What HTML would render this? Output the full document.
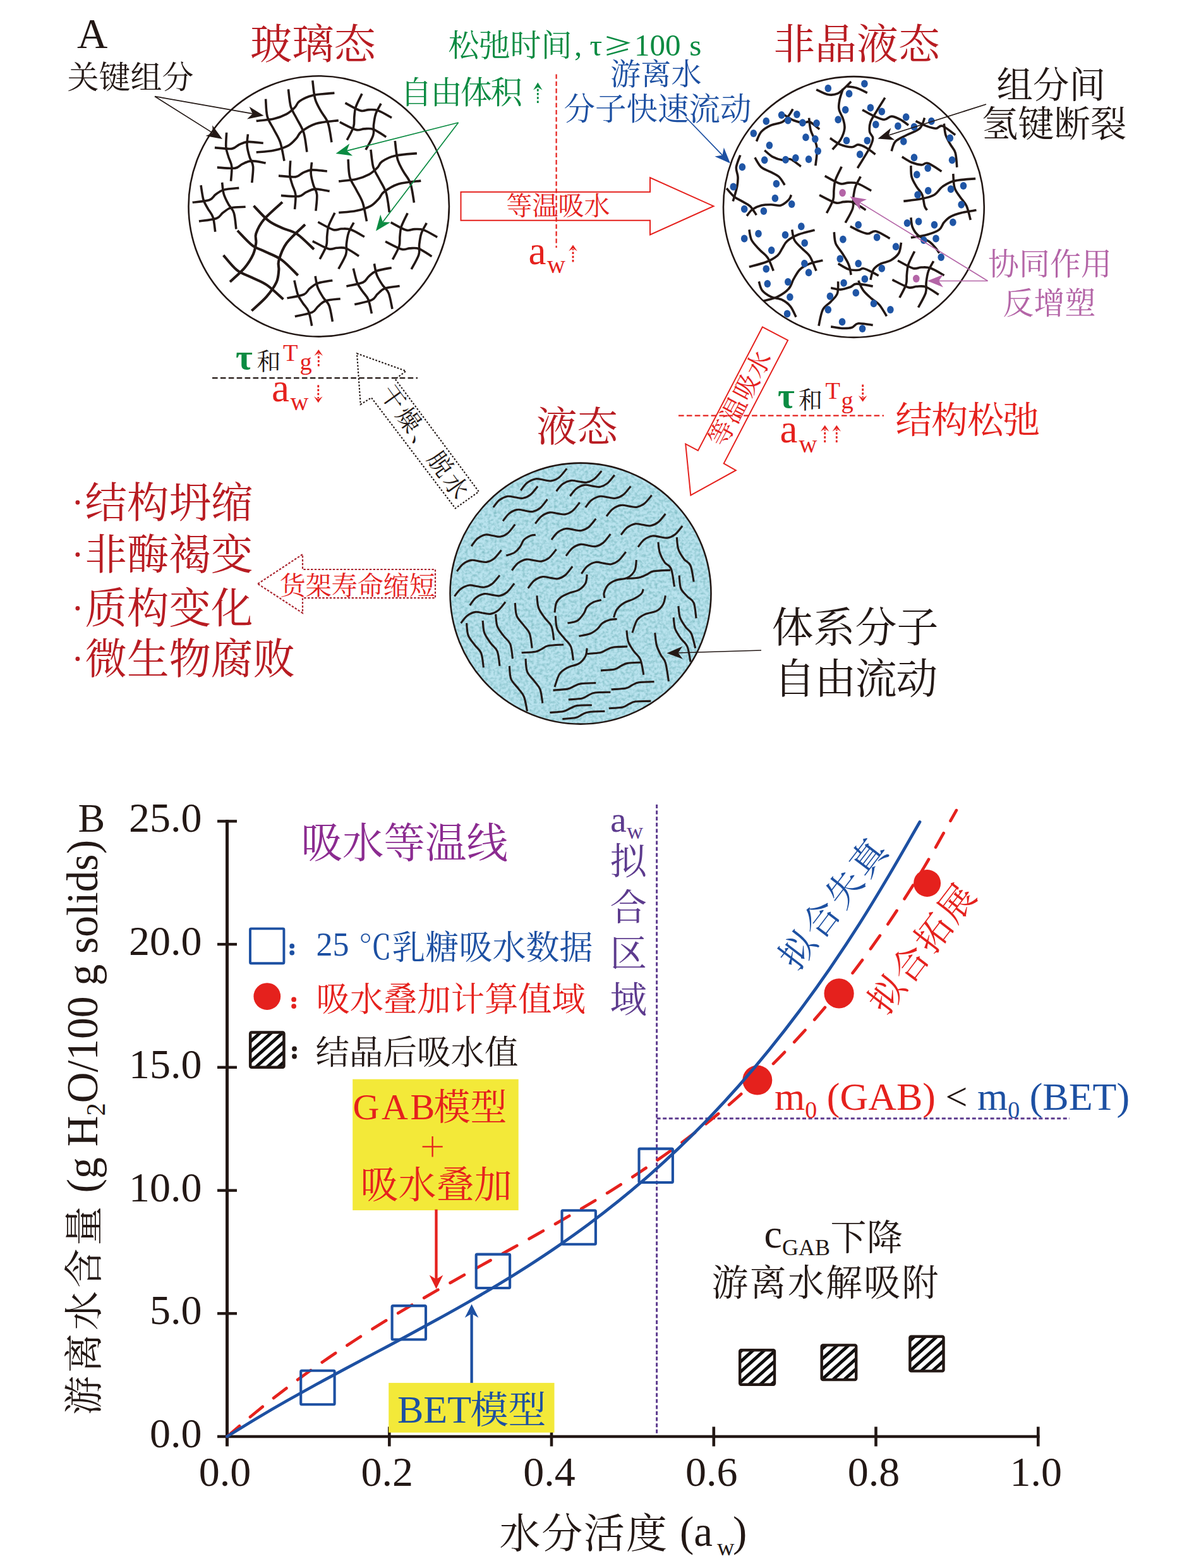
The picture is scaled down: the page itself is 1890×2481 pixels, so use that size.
<!DOCTYPE html>
<html lang="zh"><head><meta charset="utf-8"><title>Glass transition and water sorption isotherm</title>
<style>
html,body{margin:0;padding:0;background:#fff;}
body{width:1890px;height:2481px;overflow:hidden;font-family:"Liberation Serif","Noto Serif CJK SC",serif;}
svg{display:block;}
svg text{font-family:"Liberation Serif","Noto Serif CJK SC",serif;}
</style></head><body>
<svg width="1890" height="2481" viewBox="0 0 1890 2481">
<defs>
<pattern id="hatch" width="11.9" height="11.9" patternUnits="userSpaceOnUse" patternTransform="rotate(-42)"><rect width="11.9" height="11.9" fill="#fff"/><rect y="0" width="11.9" height="5" fill="#0c0c0c"/></pattern>
<pattern id="hatch2" width="11.9" height="11.9" patternUnits="userSpaceOnUse" patternTransform="rotate(-42) translate(0,3)"><rect width="11.9" height="11.9" fill="#fff"/><rect y="0" width="11.9" height="5" fill="#0c0c0c"/></pattern>
<filter id="noise" x="0" y="0" width="100%" height="100%" color-interpolation-filters="sRGB"><feTurbulence type="fractalNoise" baseFrequency="0.22" numOctaves="2" seed="11"/><feColorMatrix type="matrix" values="0 0 0 0 0.50  0 0 0 0 0.74  0 0 0 0 0.77  1.9 0 0 0 -0.73"/></filter>
<clipPath id="c3"><circle cx="919" cy="939.1" r="206.5"/></clipPath>
<g id="mS"><path d="M-39.7,-15.9C-35.2,-15.6 -19.2,-13.3 -12.8,-14.1C-6.4,-14.9 -5.6,-18.7 -1.3,-20.5C3.0,-22.3 6.4,-24.7 12.8,-25.1C19.2,-25.5 33.1,-23.4 37.1,-23.0"/><path d="M-35.8,15.4C-31.1,15.6 -14.3,17.5 -7.7,16.6C-1.1,15.7 -0.5,12.1 3.8,10.2C8.1,8.3 11.7,5.4 17.9,5.1C24.1,4.8 37.1,7.9 41.0,8.4"/><path d="M-21.0,-39.7C-21.1,-35.9 -22.3,-23.0 -21.8,-16.6C-21.3,-10.2 -19.4,-6.4 -17.9,-1.3C-16.4,3.8 -13.4,7.7 -12.8,14.1C-12.2,20.5 -13.9,33.3 -14.1,37.1"/><path d="M12.8,-37.1C12.6,-34.1 11.1,-25.2 11.5,-19.2C11.9,-13.2 13.8,-6.8 15.4,-1.3C17.0,4.2 20.4,7.3 21.0,14.1C21.6,20.9 19.5,35.4 19.2,39.7"/></g><g id="mL"><path d="M-49.9,-34.0C-49.5,-29.4 -49.5,-14.4 -47.4,-6.4C-45.3,1.6 -40.5,7.3 -37.1,14.1C-33.7,20.9 -29.7,26.3 -26.9,34.6C-24.1,42.9 -21.6,59.1 -20.5,64.0"/><path d="M-14.1,-49.4C-13.4,-44.8 -12.3,-29.4 -10.2,-21.8C-8.1,-14.2 -4.7,-10.6 -1.3,-3.8C2.1,3.0 7.4,10.2 10.2,19.2C13.0,28.1 14.5,44.8 15.4,49.9"/><path d="M24.3,-63.2C24.9,-58.4 26.1,-42.6 28.2,-34.6C30.3,-26.6 33.7,-21.8 37.1,-15.4C40.5,-9.0 45.7,-4.5 48.6,3.8C51.5,12.1 53.5,29.5 54.5,34.6"/><path d="M-64.8,0.8C-60.2,0.2 -45.1,-0.8 -37.1,-2.6C-29.1,-4.4 -22.2,-7.2 -16.6,-10.2C-11.1,-13.2 -7.2,-17.1 -3.8,-20.5C-0.4,-23.9 -0.9,-27.5 3.8,-30.7C8.5,-33.9 15.1,-37.6 24.3,-39.7C33.5,-41.8 53.1,-42.9 58.9,-43.5"/><path d="M-64.8,50.4C-60.2,49.9 -45.5,49.2 -37.1,47.4C-28.7,45.6 -20.1,42.9 -14.1,39.7C-8.1,36.5 -4.7,31.8 -1.3,28.2C2.1,24.6 1.3,21.8 6.4,17.9C11.5,14.0 19.6,8.1 29.4,5.1C39.2,2.1 59.3,0.8 65.3,0.0"/></g></defs>
<text x="122.00" y="76.00" font-size="67" fill="#231815" text-anchor="start">A</text>
<circle cx="504.7" cy="326.4" r="206.2" fill="#fff" stroke="#231815" stroke-width="2.6"/>
<circle cx="1351.4" cy="327.5" r="206.4" fill="#fff" stroke="#231815" stroke-width="2.6"/>
<circle cx="919" cy="939.1" r="206.5" fill="#b9e3ee"/><rect x="706" y="726" width="426" height="426" filter="url(#noise)" clip-path="url(#c3)"/><circle cx="919" cy="939.1" r="206.5" fill="none" stroke="#231815" stroke-width="2.6"/>
<g fill="none" stroke="#231815" stroke-width="3.6" stroke-linecap="butt">
<use href="#mS" transform="translate(379.6,249.5)"/>
<use href="#mL" transform="translate(470.5,190.6)"/>
<use href="#mS" transform="translate(576.8,193.0) rotate(23)"/>
<use href="#mS" transform="translate(480.7,294.0)"/>
<use href="#mL" transform="translate(601.0,286.1)"/>
<use href="#mS" transform="translate(346.8,327.6) rotate(-12)"/>
<use href="#mL" transform="translate(423.0,400.5) rotate(-37) scale(1.15,1.15)"/>
<use href="#mS" transform="translate(533.7,381.4) rotate(23)"/>
<use href="#mS" transform="translate(649.0,382.0) rotate(23)"/>
<use href="#mS" transform="translate(497.0,476.0) rotate(-16)"/>
<use href="#mS" transform="translate(591.0,456.5) rotate(-17)"/>
</g>
<g fill="none" stroke="#231815" stroke-width="3.6">
<path d="M1292.1,141.8C1295.1,143.1 1304.5,148.4 1310.0,149.5C1315.6,150.6 1320.7,150.2 1325.4,148.2C1330.1,146.3 1334.6,141.2 1338.2,138.0C1341.8,134.8 1345.7,130.5 1347.2,129.0"/>
<path d="M1334.4,140.6C1333.5,143.3 1330.3,151.9 1329.2,157.2C1328.2,162.5 1327.1,167.4 1328.0,172.5C1328.8,177.7 1332.9,182.8 1334.4,187.9C1335.9,193.0 1337.6,197.7 1336.9,203.3C1336.3,208.8 1333.7,215.6 1330.5,221.2C1327.3,226.7 1319.9,234.0 1317.7,236.5"/>
<path d="M1340.8,136.7C1343.3,137.1 1350.8,137.6 1356.1,139.3C1361.5,141.0 1370.0,145.7 1372.8,147.0"/>
<path d="M1365.1,173.8C1367.9,175.3 1376.0,180.2 1381.7,182.8C1387.5,185.3 1394.7,189.0 1399.6,189.2C1404.5,189.4 1406.9,184.1 1411.1,184.1C1415.4,184.1 1420.7,186.8 1425.2,189.2C1429.7,191.5 1435.9,196.6 1438.0,198.1"/>
<path d="M1400.9,154.6C1398.8,158.0 1392.0,168.7 1388.1,175.1C1384.3,181.5 1379.8,187.5 1377.9,193.0C1376.0,198.6 1376.0,204.1 1376.6,208.4C1377.2,212.6 1381.7,214.4 1381.7,218.6C1381.7,222.9 1380.6,226.1 1376.6,234.0C1372.5,241.9 1360.6,260.6 1357.4,266.0"/>
<path d="M1313.9,218.6C1316.7,220.3 1324.8,226.5 1330.5,228.9C1336.3,231.2 1343.7,232.7 1348.4,232.7C1353.1,232.7 1354.8,228.6 1358.7,228.9C1362.5,229.1 1367.0,231.4 1371.5,234.0C1376.0,236.5 1383.2,242.5 1385.6,244.2"/>
<path d="M1449.5,191.7C1452.3,193.0 1460.8,197.5 1466.2,199.4C1471.5,201.3 1477.3,203.3 1481.5,203.3C1485.8,203.3 1486.7,197.7 1491.8,199.4C1496.9,201.1 1508.8,211.2 1512.2,213.5"/>
<path d="M1463.6,186.6C1462.3,189.4 1460.6,198.8 1455.9,203.3C1451.2,207.7 1441.9,210.1 1435.5,213.5C1429.1,216.9 1421.6,219.5 1417.5,223.7C1413.5,228.0 1412.2,236.5 1411.1,239.1"/>
<path d="M1494.3,195.6C1494.8,198.6 1495.2,208.0 1496.9,213.5C1498.6,219.0 1502.0,224.2 1504.6,228.9C1507.1,233.5 1510.5,235.7 1512.2,241.7C1514.0,247.6 1514.4,260.9 1514.8,264.7"/>
<path d="M1427.8,248.1C1430.3,249.5 1438.0,254.9 1443.1,257.0C1448.3,259.1 1454.2,260.6 1458.5,260.9C1462.8,261.1 1463.4,256.6 1468.7,258.3C1474.1,260.0 1486.9,269.0 1490.5,271.1"/>
<path d="M1441.9,262.1C1442.1,265.1 1441.6,274.5 1443.1,280.0C1444.6,285.6 1448.0,290.7 1450.8,295.4C1453.6,300.1 1457.6,303.1 1459.8,308.2C1461.9,313.3 1462.3,322.1 1463.6,326.1C1464.9,330.2 1466.8,331.5 1467.5,332.5"/>
<path d="M1508.8,275.0C1509.2,278.7 1509.1,290.8 1511.0,297.0C1512.9,303.2 1516.8,307.2 1520.0,312.0C1523.2,316.8 1527.3,320.0 1530.0,326.0C1532.7,332.0 1535.2,344.3 1536.3,348.0"/>
<path d="M1430.3,318.4C1435.0,317.8 1450.4,316.3 1458.5,314.6C1466.6,312.9 1473.4,311.4 1479.0,308.2C1484.5,305.0 1486.7,299.0 1491.8,295.4C1496.9,291.8 1500.9,288.6 1509.7,286.4C1518.4,284.3 1538.5,283.2 1544.2,282.6"/>
<path d="M1197.4,223.7C1198.7,221.2 1201.3,212.6 1205.1,208.4C1208.9,204.1 1214.9,200.7 1220.5,198.1C1226.0,195.6 1233.7,195.6 1238.4,193.0C1243.1,190.5 1245.8,186.2 1248.6,182.8C1251.4,179.4 1254.0,174.3 1255.0,172.5"/>
<path d="M1240.9,181.5C1243.5,183.0 1251.2,188.3 1256.3,190.5C1261.4,192.6 1267.4,193.9 1271.7,194.3C1275.9,194.7 1277.6,191.3 1281.9,193.0C1286.2,194.7 1294.7,202.6 1297.2,204.5"/>
<path d="M1280.6,186.6C1281.0,189.8 1281.7,200.1 1283.2,205.8C1284.7,211.6 1287.9,216.1 1289.6,221.2C1291.3,226.3 1293.2,229.7 1293.4,236.5C1293.6,243.4 1291.3,257.9 1290.9,262.1"/>
<path d="M1210.2,237.8C1212.4,239.5 1218.3,245.5 1223.0,248.1C1227.7,250.6 1233.7,252.5 1238.4,253.2C1243.1,253.8 1246.3,250.2 1251.2,251.9C1256.1,253.6 1265.0,261.5 1267.8,263.4"/>
<path d="M1194.9,249.3C1196.6,251.9 1200.8,260.9 1205.1,264.7C1209.4,268.5 1215.8,269.8 1220.5,272.4C1225.2,274.9 1229.6,276.6 1233.3,280.0C1236.9,283.5 1240.7,290.7 1242.2,292.8"/>
<path d="M1171.8,245.5C1170.8,248.7 1166.1,258.9 1165.4,264.7C1164.8,270.4 1167.8,274.9 1168.0,280.0C1168.2,285.2 1168.0,289.0 1166.7,295.4C1165.4,301.8 1161.4,314.6 1160.3,318.4"/>
<path d="M1150.1,298.0C1152.0,300.1 1157.5,307.3 1161.6,310.8C1165.6,314.2 1170.1,315.9 1174.4,318.4C1178.7,321.0 1183.4,322.5 1187.2,326.1C1191.0,329.7 1195.7,337.9 1197.4,340.2"/>
<path d="M1182.1,341.6C1183.6,339.9 1187.2,334.1 1191.0,331.4C1194.9,328.6 1200.2,326.2 1205.1,325.0C1210.0,323.7 1215.3,323.7 1220.5,323.7C1225.6,323.7 1231.1,326.2 1235.8,325.0C1240.5,323.7 1245.8,318.8 1248.6,316.0C1251.4,313.2 1251.8,309.6 1252.5,308.3"/>
<path d="M1441.9,376.1C1446.3,375.3 1461.3,373.2 1468.7,371.0C1476.2,368.9 1482.4,366.6 1486.7,363.4C1490.9,360.2 1491.3,355.2 1494.3,351.8C1497.3,348.4 1499.9,345.4 1504.6,342.9C1509.3,340.3 1515.7,338.2 1522.5,336.5C1529.3,334.8 1541.7,333.3 1545.5,332.6"/>
<path d="M1441.9,344.2C1442.3,346.7 1442.5,354.8 1444.4,359.5C1446.3,364.2 1448.9,368.5 1453.4,372.3C1457.9,376.1 1466.6,379.1 1471.3,382.5C1476.0,386.0 1479.0,389.8 1481.5,392.8C1484.1,395.8 1485.8,399.2 1486.7,400.5"/>
<path d="M1185.9,363.4C1186.6,366.1 1187.0,374.7 1189.8,380.0C1192.5,385.3 1198.3,390.7 1202.5,395.3C1206.8,400.0 1211.7,402.6 1215.3,408.1C1219.0,413.7 1222.8,425.2 1224.3,428.6"/>
<path d="M1253.7,363.4C1254.4,366.1 1255.0,375.1 1257.6,380.0C1260.1,384.9 1265.0,388.5 1269.1,392.8C1273.1,397.1 1278.1,399.6 1281.9,405.6C1285.7,411.6 1290.4,424.8 1292.1,428.6"/>
<path d="M1185.9,422.2C1190.4,420.9 1205.3,417.5 1212.8,414.5C1220.3,411.6 1226.4,407.9 1230.7,404.3C1235.0,400.7 1235.8,396.6 1238.4,392.8C1240.9,388.9 1241.8,384.9 1246.1,381.3C1250.3,377.6 1256.7,373.9 1264.0,371.0C1271.2,368.2 1285.3,365.3 1289.6,364.1"/>
<path d="M1201.3,445.3C1202.1,447.6 1203.2,455.3 1206.4,459.3C1209.6,463.4 1215.1,467.0 1220.5,469.6C1225.8,472.1 1233.3,472.1 1238.4,474.7C1243.5,477.2 1247.6,480.4 1251.2,484.9C1254.8,489.4 1258.6,498.8 1260.1,501.6"/>
<path d="M1208.9,476.0C1212.6,474.9 1224.1,472.8 1230.7,469.6C1237.3,466.4 1244.4,461.5 1248.6,456.8C1252.9,452.1 1253.3,446.5 1256.3,441.4C1259.3,436.3 1262.3,430.1 1266.5,426.1C1270.8,422.0 1275.9,419.4 1281.9,417.1C1287.9,414.8 1299.0,412.8 1302.4,412.0"/>
<path d="M1320.3,367.2C1320.7,370.2 1320.7,379.6 1322.8,385.1C1325.0,390.7 1329.7,394.9 1333.1,400.5C1336.5,406.0 1341.0,412.6 1343.3,418.4C1345.7,424.1 1346.5,432.2 1347.2,435.0"/>
<path d="M1345.9,358.2C1348.4,359.5 1356.5,364.0 1361.2,365.9C1365.9,367.8 1369.8,369.8 1374.0,369.8C1378.3,369.8 1381.1,364.6 1386.8,365.9C1392.6,367.2 1405.0,375.5 1408.6,377.4"/>
<path d="M1326.7,417.1C1329.5,418.6 1338.0,424.4 1343.3,426.1C1348.7,427.8 1354.8,427.6 1358.7,427.3C1362.5,427.1 1362.9,424.4 1366.4,424.8C1369.8,425.2 1375.1,428.0 1379.2,429.9C1383.2,431.8 1388.8,435.2 1390.7,436.3"/>
<path d="M1426.5,383.8C1425.9,386.6 1425.4,395.8 1422.7,400.5C1419.9,405.2 1414.6,409.2 1409.9,412.0C1405.2,414.8 1399.0,414.8 1394.5,417.1C1390.0,419.4 1385.8,421.8 1383.0,426.1C1380.2,430.3 1378.7,439.9 1377.9,442.7"/>
<path d="M1315.2,455.5C1317.7,455.9 1325.4,458.3 1330.5,458.1C1335.6,457.8 1341.6,455.7 1345.9,454.2C1350.1,452.7 1350.1,449.3 1356.1,449.1C1362.1,448.9 1377.4,452.3 1381.7,452.9"/>
<path d="M1326.7,445.3C1326.5,448.5 1327.3,459.1 1325.4,464.5C1323.5,469.8 1319.0,473.0 1315.2,477.2C1311.3,481.5 1305.6,483.6 1302.4,490.0C1299.2,496.4 1297.0,511.4 1296.0,515.6"/>
<path d="M1358.7,444.0C1360.0,446.5 1362.9,454.6 1366.4,459.3C1369.8,464.0 1374.9,468.3 1379.2,472.1C1383.4,476.0 1387.9,477.7 1392.0,482.4C1396.0,487.1 1401.6,497.3 1403.5,500.3"/>
<path d="M1315.2,516.9C1318.2,517.3 1327.5,519.3 1333.1,519.5C1338.6,519.7 1344.2,519.5 1348.4,518.2C1352.7,516.9 1353.1,512.4 1358.7,511.8C1364.2,511.2 1377.9,513.9 1381.7,514.4"/>
<use href="#mS" transform="translate(1336.0,308.5) rotate(23)"/>
<use href="#mS" transform="translate(1451.4,442.4) rotate(23)"/>
</g>
<g fill="#1f55a5">
<ellipse cx="1310.8" cy="139.8" rx="5.3" ry="6"/>
<ellipse cx="1368.4" cy="132.4" rx="5.3" ry="6"/>
<ellipse cx="1344.1" cy="148.2" rx="5.3" ry="6"/>
<ellipse cx="1338.2" cy="173.8" rx="5.3" ry="6"/>
<ellipse cx="1326.7" cy="189.2" rx="5.3" ry="6"/>
<ellipse cx="1377.9" cy="170.5" rx="5.3" ry="6"/>
<ellipse cx="1395.8" cy="176.4" rx="5.3" ry="6"/>
<ellipse cx="1386.3" cy="196.9" rx="5.3" ry="6"/>
<ellipse cx="1434.2" cy="185.3" rx="5.3" ry="6"/>
<ellipse cx="1421.4" cy="199.4" rx="5.3" ry="6"/>
<ellipse cx="1447.0" cy="200.7" rx="5.3" ry="6"/>
<ellipse cx="1474.4" cy="191.7" rx="5.3" ry="6"/>
<ellipse cx="1430.3" cy="223.7" rx="5.3" ry="6"/>
<ellipse cx="1503.8" cy="218.6" rx="5.3" ry="6"/>
<ellipse cx="1507.1" cy="253.2" rx="5.3" ry="6"/>
<ellipse cx="1447.0" cy="249.3" rx="5.3" ry="6"/>
<ellipse cx="1468.7" cy="266.0" rx="5.3" ry="6"/>
<ellipse cx="1451.3" cy="276.2" rx="5.3" ry="6"/>
<ellipse cx="1452.6" cy="308.2" rx="5.3" ry="6"/>
<ellipse cx="1469.2" cy="301.8" rx="5.3" ry="6"/>
<ellipse cx="1505.1" cy="299.2" rx="5.3" ry="6"/>
<ellipse cx="1525.0" cy="294.1" rx="5.3" ry="6"/>
<ellipse cx="1340.0" cy="222.5" rx="5.3" ry="6"/>
<ellipse cx="1372.8" cy="222.5" rx="5.3" ry="6"/>
<ellipse cx="1361.2" cy="244.2" rx="5.3" ry="6"/>
<ellipse cx="1237.1" cy="182.0" rx="5.3" ry="6"/>
<ellipse cx="1247.3" cy="190.5" rx="5.3" ry="6"/>
<ellipse cx="1261.4" cy="181.0" rx="5.3" ry="6"/>
<ellipse cx="1270.4" cy="194.3" rx="5.3" ry="6"/>
<ellipse cx="1292.6" cy="195.1" rx="5.3" ry="6"/>
<ellipse cx="1212.8" cy="191.7" rx="5.3" ry="6"/>
<ellipse cx="1192.8" cy="210.9" rx="5.3" ry="6"/>
<ellipse cx="1275.5" cy="217.3" rx="5.3" ry="6"/>
<ellipse cx="1290.3" cy="219.9" rx="5.3" ry="6"/>
<ellipse cx="1294.7" cy="239.1" rx="5.3" ry="6"/>
<ellipse cx="1217.9" cy="230.1" rx="5.3" ry="6"/>
<ellipse cx="1210.2" cy="253.2" rx="5.3" ry="6"/>
<ellipse cx="1243.5" cy="252.7" rx="5.3" ry="6"/>
<ellipse cx="1259.4" cy="250.1" rx="5.3" ry="6"/>
<ellipse cx="1280.1" cy="251.9" rx="5.3" ry="6"/>
<ellipse cx="1174.9" cy="264.2" rx="5.3" ry="6"/>
<ellipse cx="1160.8" cy="295.4" rx="5.3" ry="6"/>
<ellipse cx="1228.9" cy="290.8" rx="5.3" ry="6"/>
<ellipse cx="1226.9" cy="313.8" rx="5.3" ry="6"/>
<ellipse cx="1178.2" cy="330.8" rx="5.3" ry="6"/>
<ellipse cx="1208.9" cy="333.9" rx="5.3" ry="6"/>
<ellipse cx="1253.2" cy="322.9" rx="5.3" ry="6"/>
<ellipse cx="1521.7" cy="323.7" rx="5.3" ry="6"/>
<ellipse cx="1436.0" cy="353.1" rx="5.3" ry="6"/>
<ellipse cx="1454.1" cy="350.6" rx="5.3" ry="6"/>
<ellipse cx="1479.0" cy="355.7" rx="5.3" ry="6"/>
<ellipse cx="1508.4" cy="351.8" rx="5.3" ry="6"/>
<ellipse cx="1462.3" cy="380.0" rx="5.3" ry="6"/>
<ellipse cx="1481.5" cy="377.4" rx="5.3" ry="6"/>
<ellipse cx="1489.7" cy="406.9" rx="5.3" ry="6"/>
<ellipse cx="1358.7" cy="355.7" rx="5.3" ry="6"/>
<ellipse cx="1388.1" cy="375.4" rx="5.3" ry="6"/>
<ellipse cx="1418.1" cy="390.2" rx="5.3" ry="6"/>
<ellipse cx="1334.4" cy="378.7" rx="5.3" ry="6"/>
<ellipse cx="1329.8" cy="409.4" rx="5.3" ry="6"/>
<ellipse cx="1358.7" cy="417.1" rx="5.3" ry="6"/>
<ellipse cx="1395.8" cy="424.8" rx="5.3" ry="6"/>
<ellipse cx="1368.9" cy="441.4" rx="5.3" ry="6"/>
<ellipse cx="1335.6" cy="447.8" rx="5.3" ry="6"/>
<ellipse cx="1354.8" cy="463.2" rx="5.3" ry="6"/>
<ellipse cx="1313.9" cy="468.8" rx="5.3" ry="6"/>
<ellipse cx="1310.8" cy="490.0" rx="5.3" ry="6"/>
<ellipse cx="1383.0" cy="480.3" rx="5.3" ry="6"/>
<ellipse cx="1409.4" cy="490.0" rx="5.3" ry="6"/>
<ellipse cx="1333.1" cy="509.2" rx="5.3" ry="6"/>
<ellipse cx="1365.1" cy="520.0" rx="5.3" ry="6"/>
<ellipse cx="1268.3" cy="358.2" rx="5.3" ry="6"/>
<ellipse cx="1200.5" cy="369.8" rx="5.3" ry="6"/>
<ellipse cx="1178.2" cy="377.4" rx="5.3" ry="6"/>
<ellipse cx="1243.0" cy="371.8" rx="5.3" ry="6"/>
<ellipse cx="1273.7" cy="384.6" rx="5.3" ry="6"/>
<ellipse cx="1221.2" cy="395.9" rx="5.3" ry="6"/>
<ellipse cx="1212.8" cy="425.5" rx="5.3" ry="6"/>
<ellipse cx="1273.4" cy="417.1" rx="5.3" ry="6"/>
<ellipse cx="1280.1" cy="431.2" rx="5.3" ry="6"/>
<ellipse cx="1214.8" cy="449.1" rx="5.3" ry="6"/>
<ellipse cx="1247.3" cy="446.0" rx="5.3" ry="6"/>
<ellipse cx="1250.4" cy="470.1" rx="5.3" ry="6"/>
<ellipse cx="1246.1" cy="496.4" rx="5.3" ry="6"/>
</g>
<ellipse cx="1333.6" cy="305.1" rx="5.3" ry="6.2" fill="#b465a7"/>
<ellipse cx="1450.3" cy="440.9" rx="5.3" ry="6.2" fill="#b465a7"/>
<g fill="none" stroke="#231815" stroke-width="3.1">
<path d="M824.3,775.9C826.0,773.9 830.4,767.0 834.3,764.0C838.3,760.9 843.5,758.5 848.0,757.7C852.5,757.0 857.0,759.0 861.2,759.5C865.3,760.1 869.0,761.6 873.0,760.8C877.1,760.1 881.4,758.4 885.4,755.1C889.4,751.9 895.3,743.7 897.2,741.4"/>
<path d="M880.6,777.2C882.2,775.3 886.6,768.9 890.4,766.1C894.3,763.3 899.5,761.0 903.9,760.4C908.3,759.7 912.7,761.6 916.8,762.0C920.9,762.5 924.5,763.9 928.5,763.2C932.4,762.6 936.7,761.0 940.6,757.9C944.6,754.9 950.3,747.3 952.3,745.2"/>
<path d="M902.4,784.9C904.0,783.0 908.2,776.3 912.0,773.4C915.8,770.4 920.9,768.1 925.2,767.4C929.6,766.6 933.9,768.6 937.9,769.1C942.0,769.6 945.5,771.1 949.4,770.4C953.3,769.6 957.4,768.0 961.3,764.9C965.2,761.7 970.8,753.8 972.8,751.6"/>
<path d="M780.8,802.8C782.4,800.9 786.6,794.2 790.4,791.3C794.3,788.4 799.3,786.0 803.7,785.3C808.0,784.6 812.3,786.5 816.4,787.0C820.4,787.5 823.9,789.0 827.8,788.3C831.7,787.6 835.8,785.9 839.7,782.8C843.6,779.6 849.3,771.7 851.2,769.5"/>
<path d="M926.7,802.8C928.3,800.9 932.6,794.2 936.5,791.3C940.4,788.4 945.6,786.0 950.0,785.3C954.4,784.6 958.8,786.5 962.9,787.0C967.0,787.5 970.6,789.0 974.5,788.3C978.5,787.6 982.7,785.9 986.7,782.8C990.7,779.6 996.4,771.7 998.3,769.5"/>
<path d="M796.1,824.5C797.8,822.5 802.0,815.6 805.8,812.6C809.6,809.6 814.7,807.1 819.0,806.4C823.3,805.6 827.7,807.7 831.7,808.2C835.7,808.7 839.3,810.2 843.2,809.5C847.0,808.7 851.2,807.0 855.1,803.8C859.0,800.5 864.6,792.3 866.5,790.0"/>
<path d="M847.3,828.4C848.9,826.5 853.2,819.8 857.0,816.9C860.8,814.0 865.9,811.6 870.2,810.9C874.5,810.2 878.9,812.1 882.9,812.6C886.9,813.1 890.4,814.6 894.3,813.9C898.2,813.2 902.4,811.5 906.3,808.4C910.2,805.2 915.8,797.3 917.7,795.1"/>
<path d="M960.0,816.9C961.6,814.9 965.9,808.3 969.8,805.4C973.7,802.4 978.8,800.1 983.2,799.4C987.6,798.6 992.1,800.6 996.2,801.1C1000.3,801.6 1003.8,803.1 1007.8,802.4C1011.8,801.6 1016.0,800.0 1020.0,796.8C1023.9,793.7 1029.7,785.8 1031.6,783.6"/>
<path d="M746.2,864.2C747.8,862.2 752.0,855.3 755.7,852.3C759.5,849.2 764.4,846.8 768.7,846.0C772.9,845.3 777.2,847.3 781.2,847.8C785.1,848.4 788.6,849.9 792.4,849.1C796.2,848.4 800.3,846.7 804.1,843.4C807.9,840.2 813.5,832.0 815.3,829.7"/>
<path d="M872.9,854.0C874.5,852.1 878.8,845.4 882.6,842.5C886.4,839.5 891.5,837.2 895.8,836.5C900.1,835.8 904.5,837.7 908.5,838.2C912.5,838.7 916.0,840.2 919.9,839.5C923.8,838.8 928.0,837.1 931.9,834.0C935.8,830.8 941.4,822.9 943.3,820.7"/>
<path d="M983.0,846.3C984.6,844.4 988.8,837.7 992.6,834.8C996.5,831.9 1001.5,829.5 1005.9,828.8C1010.2,828.1 1014.5,830.0 1018.6,830.5C1022.6,831.0 1026.1,832.5 1030.0,831.8C1033.9,831.1 1038.0,829.4 1041.9,826.3C1045.8,823.2 1051.5,815.2 1053.4,813.0"/>
<path d="M801.3,879.1C803.4,878.3 810.4,876.7 814.1,874.5C817.7,872.2 820.5,868.9 823.0,865.5C825.6,862.1 826.6,857.0 829.4,854.0C832.2,851.0 836.6,848.9 839.7,847.6C842.7,846.3 846.5,846.5 847.8,846.3"/>
<path d="M896.0,879.6C897.6,877.6 901.8,870.7 905.6,867.6C909.4,864.6 914.5,862.1 918.8,861.4C923.2,860.6 927.5,862.7 931.5,863.2C935.6,863.7 939.1,865.2 943.0,864.5C946.9,863.8 951.0,862.0 954.9,858.8C958.8,855.5 964.4,847.3 966.4,845.0"/>
<path d="M1009.9,865.5C1011.5,863.6 1015.7,856.9 1019.5,854.0C1023.3,851.1 1028.4,848.7 1032.7,848.0C1037.1,847.3 1041.4,849.2 1045.4,849.7C1049.5,850.2 1053.0,851.7 1056.9,851.0C1060.8,850.3 1064.9,848.6 1068.8,845.5C1072.7,842.4 1078.3,834.4 1080.2,832.2"/>
<path d="M723.2,903.9C724.8,902.0 729.0,895.3 732.9,892.4C736.7,889.5 741.7,887.1 746.1,886.4C750.4,885.7 754.7,887.6 758.8,888.1C762.8,888.6 766.3,890.1 770.2,889.4C774.1,888.7 778.3,887.0 782.1,883.9C786.0,880.7 791.7,872.8 793.6,870.6"/>
<path d="M810.2,902.6C811.8,900.7 816.1,894.0 819.9,891.1C823.7,888.2 828.8,885.8 833.1,885.1C837.4,884.4 841.8,886.3 845.8,886.8C849.8,887.3 853.3,888.8 857.2,888.1C861.1,887.4 865.3,885.7 869.2,882.6C873.1,879.5 878.7,871.5 880.6,869.3"/>
<path d="M920.3,907.7C921.9,905.7 926.1,898.8 929.9,895.8C933.7,892.7 938.8,890.3 943.1,889.5C947.5,888.8 951.8,890.8 955.9,891.4C959.9,891.9 963.4,893.4 967.3,892.7C971.2,891.9 975.3,890.2 979.2,886.9C983.1,883.7 988.8,875.5 990.7,873.2"/>
<path d="M719.4,943.6C721.0,941.6 725.3,935.0 729.2,932.1C733.1,929.1 738.2,926.8 742.6,926.0C747.0,925.3 751.5,927.3 755.6,927.8C759.7,928.3 763.3,929.8 767.2,929.0C771.2,928.3 775.4,926.7 779.4,923.5C783.3,920.4 789.1,912.5 791.0,910.3"/>
<path d="M835.8,930.8C837.4,928.8 841.7,921.8 845.5,918.8C849.3,915.8 854.4,913.3 858.7,912.6C863.0,911.8 867.4,913.9 871.4,914.4C875.4,914.9 878.9,916.4 882.8,915.7C886.7,915.0 890.9,913.2 894.8,910.0C898.7,906.7 904.3,898.5 906.2,896.2"/>
<path d="M929.2,909.0C928.8,911.4 928.8,919.0 926.7,923.1C924.5,927.1 920.7,930.8 916.4,933.3C912.2,935.9 905.8,936.5 901.1,938.4C896.4,940.4 891.7,942.3 888.3,944.8C884.9,947.4 882.3,949.7 880.6,953.8C878.9,957.9 878.5,966.6 878.0,969.2"/>
<path d="M1007.3,886.0C1006.9,888.7 1007.1,897.9 1004.7,902.6C1002.4,907.3 998.1,911.6 993.2,914.1C988.3,916.7 980.4,916.0 975.3,918.0C970.2,919.9 965.7,922.2 962.5,925.6C959.3,929.1 957.1,935.0 956.1,938.4C955.2,941.9 956.8,944.8 956.9,946.1"/>
<path d="M991.9,915.4C995.1,915.2 1005.8,915.2 1011.1,914.1C1016.5,913.1 1020.1,910.7 1023.9,909.0C1027.8,907.3 1028.0,905.0 1034.2,903.9C1040.4,902.7 1056.6,902.4 1061.1,902.1"/>
<path d="M1041.9,857.8C1042.3,860.6 1042.7,869.1 1044.4,874.5C1046.1,879.8 1049.1,885.5 1052.1,889.8C1055.1,894.1 1059.8,893.6 1062.3,900.0C1064.9,906.4 1066.6,923.5 1067.5,928.2"/>
<path d="M1071.3,850.1C1071.7,853.3 1071.9,863.6 1073.9,869.3C1075.8,875.1 1079.6,880.4 1082.8,884.7C1086.0,889.0 1090.5,889.0 1093.0,894.9C1095.6,900.9 1097.3,916.3 1098.2,920.5"/>
<path d="M743.7,957.8C745.3,955.8 749.5,948.8 753.3,945.8C757.1,942.8 762.2,940.3 766.5,939.6C770.9,938.8 775.2,940.9 779.2,941.4C783.3,941.9 786.8,943.4 790.7,942.7C794.6,942.0 798.7,940.2 802.6,937.0C806.5,933.7 812.2,925.5 814.1,923.2"/>
<path d="M729.6,985.9C731.2,984.0 735.4,977.3 739.3,974.4C743.1,971.5 748.1,969.1 752.5,968.4C756.8,967.7 761.1,969.6 765.2,970.1C769.2,970.6 772.7,972.1 776.6,971.4C780.5,970.7 784.7,969.0 788.5,965.9C792.4,962.8 798.1,954.8 800.0,952.6"/>
<path d="M738.6,985.9C739.0,989.1 739.0,999.3 741.1,1005.1C743.2,1010.9 747.9,1015.8 751.4,1020.5C754.8,1025.2 759.2,1027.3 761.6,1033.3C763.9,1039.2 764.8,1052.5 765.4,1056.3"/>
<path d="M764.1,982.1C764.6,985.3 764.6,995.3 766.7,1001.3C768.8,1007.2 773.5,1013.0 776.9,1017.9C780.4,1022.8 784.8,1024.7 787.2,1030.7C789.5,1036.7 790.4,1049.9 791.0,1053.7"/>
<path d="M784.6,971.8C785.1,975.0 785.1,985.3 787.2,991.0C789.3,996.8 794.0,1001.7 797.4,1006.4C800.8,1011.1 805.3,1013.2 807.7,1019.2C810.0,1025.2 810.9,1038.4 811.5,1042.2"/>
<path d="M815.3,953.9C815.8,957.3 815.6,968.4 817.9,974.4C820.2,980.4 826.0,985.1 829.4,989.8C832.8,994.4 836.2,996.6 838.4,1002.5C840.5,1008.5 841.6,1021.7 842.2,1025.6"/>
<path d="M849.9,942.4C850.3,945.6 850.3,955.6 852.5,961.6C854.6,967.6 859.3,973.3 862.7,978.2C866.1,983.1 870.6,985.3 872.9,991.0C875.3,996.8 876.1,1009.2 876.8,1012.8"/>
<path d="M879.3,974.4C879.8,977.8 879.5,988.9 881.9,994.9C884.2,1000.8 889.8,1005.5 893.4,1010.2C897.0,1014.9 901.3,1017.3 903.6,1023.0C906.0,1028.8 906.8,1041.2 907.5,1044.8"/>
<path d="M806.4,1053.7C806.8,1057.2 806.6,1068.2 808.9,1074.2C811.3,1080.2 817.0,1084.9 820.5,1089.6C823.9,1094.3 827.1,1096.4 829.4,1102.4C831.8,1108.3 833.7,1121.6 834.5,1125.4"/>
<path d="M832.0,1042.2C832.4,1045.6 832.2,1056.7 834.5,1062.7C836.9,1068.7 842.6,1073.4 846.1,1078.1C849.5,1082.7 852.9,1085.1 855.0,1090.9C857.1,1096.6 858.2,1109.0 858.9,1112.6"/>
<path d="M898.5,985.9C901.1,985.3 909.6,984.6 913.9,982.1C918.1,979.5 921.6,974.2 924.1,970.6C926.7,966.9 926.7,963.3 929.2,960.3C931.8,957.3 935.7,954.5 939.5,952.6C943.2,950.8 949.7,949.9 951.8,949.3"/>
<path d="M916.4,1006.4C919.4,1005.7 929.5,1004.5 934.4,1002.5C939.3,1000.6 942.7,997.6 945.9,994.9C949.1,992.1 950.4,988.3 953.6,985.9C956.8,983.6 961.2,981.9 965.1,980.8C968.9,979.7 974.7,979.7 976.6,979.5"/>
<path d="M971.5,977.0C972.3,974.8 973.8,968.0 976.6,964.2C979.4,960.3 983.6,956.7 988.1,953.9C992.6,951.1 999.0,949.9 1003.5,947.5C1007.9,945.2 1012.5,942.4 1015.0,939.8C1017.5,937.3 1017.8,933.4 1018.3,932.2"/>
<path d="M1053.4,942.4C1052.7,944.7 1051.9,952.4 1049.5,956.5C1047.2,960.5 1044.0,964.2 1039.3,966.7C1034.6,969.3 1026.5,969.5 1021.4,971.8C1016.3,974.2 1012.0,975.9 1008.6,980.8C1005.2,985.7 1002.2,997.9 1000.9,1001.3"/>
<path d="M825.6,1032.8C829.2,1032.5 842.0,1032.2 847.3,1031.2C852.7,1030.2 854.2,1028.4 857.6,1026.9C861.0,1025.3 862.1,1022.9 867.8,1021.7C873.6,1020.6 888.1,1020.3 892.1,1020.0"/>
<path d="M929.2,1034.5C932.7,1034.2 944.6,1033.8 949.7,1032.8C954.8,1031.7 956.5,1029.6 960.0,1028.1C963.4,1026.7 964.6,1025.2 970.2,1024.3C975.7,1023.5 989.4,1023.2 993.2,1023.0"/>
<path d="M929.2,1025.6C928.8,1027.7 928.8,1034.3 926.7,1038.4C924.5,1042.4 921.1,1046.9 916.4,1049.9C911.7,1052.9 903.6,1053.5 898.5,1056.3C893.4,1059.1 889.1,1061.4 885.7,1066.5C882.3,1071.7 879.3,1083.6 878.0,1087.0"/>
<path d="M991.9,997.4C992.4,1000.4 992.6,1009.8 994.5,1015.3C996.4,1020.9 1000.3,1026.0 1003.5,1030.7C1006.7,1035.4 1011.1,1037.3 1013.7,1043.5C1016.3,1049.7 1018.0,1063.8 1018.8,1067.8"/>
<path d="M951.0,1060.9C954.6,1060.6 967.4,1060.1 972.8,1058.9C978.1,1057.7 979.6,1055.3 983.0,1053.7C986.4,1052.2 987.9,1050.3 993.2,1049.4C998.6,1048.4 1011.4,1048.3 1015.0,1048.1"/>
<path d="M1036.7,1001.3C1037.2,1004.5 1037.8,1014.7 1039.3,1020.5C1040.8,1026.2 1043.4,1031.1 1045.7,1035.8C1048.0,1040.5 1051.2,1041.6 1053.4,1048.6C1055.5,1055.7 1057.6,1073.1 1058.5,1078.1"/>
<path d="M1066.2,977.0C1066.6,979.9 1066.8,989.3 1068.7,994.9C1070.7,1000.4 1074.5,1005.5 1077.7,1010.2C1080.9,1014.9 1085.4,1016.8 1087.9,1023.0C1090.5,1029.2 1092.2,1043.3 1093.0,1047.3"/>
<path d="M1073.9,959.0C1074.3,962.0 1074.5,971.4 1076.4,977.0C1078.3,982.5 1082.4,988.0 1085.4,992.3C1088.4,996.6 1091.8,997.0 1094.3,1002.5C1096.9,1008.1 1099.7,1021.7 1100.7,1025.6"/>
<path d="M1075.1,910.4C1075.6,913.8 1075.6,925.3 1077.7,930.9C1079.8,936.4 1084.5,939.8 1087.9,943.7C1091.3,947.5 1095.8,948.2 1098.2,953.9C1100.5,959.7 1101.4,974.2 1102.0,978.2"/>
<path d="M875.5,1092.1C879.3,1091.8 893.0,1091.1 898.5,1090.1C904.1,1089.0 905.3,1087.1 908.8,1085.7C912.2,1084.4 913.2,1082.7 919.0,1081.9C924.8,1081.0 939.3,1080.8 943.3,1080.6"/>
<path d="M967.6,1090.9C971.5,1090.6 985.1,1090.2 990.7,1089.1C996.2,1087.9 997.5,1085.5 1000.9,1083.9C1004.3,1082.4 1005.4,1080.7 1011.1,1079.8C1016.9,1078.9 1031.4,1078.8 1035.5,1078.6"/>
<path d="M899.8,1107.0C903.4,1106.6 916.2,1106.1 921.6,1104.9C926.9,1103.7 928.4,1101.3 931.8,1099.8C935.2,1098.3 936.3,1096.7 942.0,1096.0C947.8,1095.2 962.3,1095.3 966.4,1095.2"/>
<path d="M870.4,1127.5C874.0,1127.1 886.6,1126.6 892.1,1125.4C897.7,1124.2 900.0,1121.8 903.6,1120.3C907.3,1118.8 908.3,1117.2 913.9,1116.4C919.4,1115.7 933.1,1115.8 936.9,1115.7"/>
<path d="M963.8,1120.8C967.4,1120.5 980.2,1120.2 985.5,1119.0C990.9,1117.9 992.4,1115.4 995.8,1113.9C999.2,1112.4 1000.3,1110.8 1006.0,1110.0C1011.8,1109.3 1026.3,1109.4 1030.3,1109.3"/>
<path d="M890.3,1137.7C893.8,1137.3 906.1,1136.8 911.3,1135.6C916.5,1134.4 918.1,1132.0 921.6,1130.5C925.0,1129.0 925.8,1127.5 931.8,1126.7C937.8,1125.8 953.1,1125.6 957.4,1125.4"/>
</g>
<text transform="translate(396.00,93.00)" font-size="66.3" fill="#b81c22" textLength="198.9">玻璃态</text>
<text transform="translate(1224.50,93.30)" font-size="65.8" fill="#b81c22" textLength="263.2">非晶液态</text>
<text transform="translate(849.00,697.50)" font-size="64.5" fill="#b81c22" textLength="129.0">液态</text>
<text transform="translate(106.50,139.50)" font-size="50" fill="#231815" textLength="200.0">关键组分</text>
<line x1="245.0" y1="152.5" x2="399.8" y2="179.9" stroke="#231815" stroke-width="1.7" />
<path d="M417.5,183.0 L391.1,188.5 L399.8,179.9 L394.6,168.8 Z" fill="#231815"/>
<line x1="245.0" y1="152.5" x2="336.8" y2="210.4" stroke="#231815" stroke-width="1.7" />
<path d="M352.0,220.0 L325.5,215.1 L336.8,210.4 L336.2,198.2 Z" fill="#231815"/>
<text transform="translate(709.50,89.00)" font-size="49" fill="#0b8b42" textLength="196.0">松弛时间</text>
<text x="909.00" y="88.00" font-size="49" fill="#0b8b42" text-anchor="start">, τ</text>
<path d="M960.5,58.3 L994,67.9 L960.5,79.3 M994,77.7 L960.5,86.9" fill="none" stroke="#0b8b42" stroke-width="2.5" stroke-linejoin="miter"/>
<text x="1004.00" y="88.00" font-size="49" fill="#0b8b42" text-anchor="start">100</text>
<text x="1091.30" y="88.00" font-size="49" fill="#0b8b42" text-anchor="start">s</text>
<text transform="translate(633.60,164.00)" font-size="50.5" fill="#0b8b42" textLength="193.3">自由体积</text>
<line x1="851.3" y1="163" x2="851.3" y2="138.9" stroke="#0b8b42" stroke-width="2.8" stroke-dasharray="3.6 2.6"/>
<path d="M851.3,130.5 L844.0999999999999,142.5 L851.3,138.0 L858.5,142.5 Z" fill="#0b8b42"/>
<line x1="725.5" y1="194.0" x2="549.0" y2="238.6" stroke="#0b8b42" stroke-width="1.7" />
<path d="M531.5,243.0 L553.3,227.2 L549.0,238.6 L558.2,246.6 Z" fill="#0b8b42"/>
<line x1="725.5" y1="194.0" x2="605.9" y2="351.2" stroke="#0b8b42" stroke-width="1.7" />
<path d="M595.0,365.5 L602.2,339.5 L605.9,351.2 L618.1,351.7 Z" fill="#0b8b42"/>
<text transform="translate(966.00,134.00)" font-size="48.2" fill="#1d50a2" textLength="144.6">游离水</text>
<text transform="translate(892.50,190.00)" font-size="49.5" fill="#1d50a2" textLength="297.0">分子快速流动</text>
<line x1="1085.5" y1="185.5" x2="1143.5" y2="245.6" stroke="#1d50a2" stroke-width="1.7" />
<path d="M1156.0,258.5 L1131.4,247.5 L1143.5,245.6 L1145.8,233.6 Z" fill="#1d50a2"/>
<text transform="translate(1577.50,154.50)" font-size="57.5" fill="#231815" textLength="172.5">组分间</text>
<text transform="translate(1554.00,216.00)" font-size="57.3" fill="#231815" textLength="229.2">氢键断裂</text>
<line x1="1561.0" y1="165.0" x2="1406.7" y2="214.0" stroke="#231815" stroke-width="1.7" />
<path d="M1389.5,219.5 L1410.3,202.4 L1406.7,214.0 L1416.4,221.5 Z" fill="#231815"/>
<text transform="translate(1564.00,435.00)" font-size="49" fill="#b465a7" textLength="196.0">协同作用</text>
<text transform="translate(1587.50,496.50)" font-size="49" fill="#b465a7" textLength="147.0">反增塑</text>
<line x1="1563.5" y1="444.5" x2="1360.9" y2="320.4" stroke="#b465a7" stroke-width="1.7" />
<path d="M1345.5,311.0 L1372.0,315.5 L1360.9,320.4 L1361.6,332.6 Z" fill="#b465a7"/>
<line x1="1563.5" y1="444.5" x2="1486.0" y2="444.5" stroke="#b465a7" stroke-width="1.7" />
<path d="M1468.0,444.5 L1493.0,434.5 L1486.0,444.5 L1493.0,454.5 Z" fill="#b465a7"/>
<line x1="880.6" y1="117.5" x2="880.6" y2="392.0" stroke="#e5211d" stroke-width="2.2" stroke-dasharray="7.3 4"/>
<path d="M729.5,303.7 H1029 V281 L1129.5,326.2 L1029,371.5 V348.7 H729.5 Z" fill="none" stroke="#e5211d" stroke-width="2" stroke-linejoin="miter"/>
<line x1="880.0" y1="300.0" x2="880.0" y2="352.0" stroke="#e5211d" stroke-width="1.8" stroke-dasharray="9 5" opacity="0.0"/>
<text transform="translate(801.50,340.00)" font-size="41" fill="#e5211d" textLength="164.0">等温吸水</text>
<text x="836.50" y="417.50" font-size="63" fill="#e5211d" text-anchor="start">a</text>
<text x="866.00" y="431.50" font-size="40" fill="#e5211d" text-anchor="start">w</text>
<line x1="907" y1="414.5" x2="907" y2="394.3" stroke="#e5211d" stroke-width="2.8" stroke-dasharray="3.6 2.6"/>
<path d="M907,387.5 L900.2,397.5 L907,393.0 L913.8,397.5 Z" fill="#e5211d"/>
<text x="373.00" y="583.50" font-size="58" fill="#0b8b42" text-anchor="start" font-weight="bold">τ</text>
<text transform="translate(406.50,585.20)" font-size="38" fill="#231815" textLength="38.0">和</text>
<text x="448.00" y="570.70" font-size="38.5" fill="#e5211d" text-anchor="start">T</text>
<text x="474.50" y="585.00" font-size="38.5" fill="#e5211d" text-anchor="start">g</text>
<line x1="504.3" y1="579.5" x2="504.3" y2="559.8" stroke="#e5211d" stroke-width="2.8" stroke-dasharray="3.6 2.6"/>
<path d="M504.3,553 L497.5,563.0 L504.3,558.5 L511.1,563.0 Z" fill="#e5211d"/>
<line x1="336.0" y1="598.1" x2="661.0" y2="598.1" stroke="#231815" stroke-width="2.2" stroke-dasharray="8.6 4.3"/>
<text x="430.00" y="635.00" font-size="63" fill="#e5211d" text-anchor="start">a</text>
<text x="459.50" y="649.00" font-size="40" fill="#e5211d" text-anchor="start">w</text>
<line x1="503.8" y1="609.3" x2="503.8" y2="630.4000000000001" stroke="#e5211d" stroke-width="2.8" stroke-dasharray="3.6 2.6"/>
<path d="M503.8,637.2 L497.0,627.2 L503.8,631.7 L510.6,627.2 Z" fill="#e5211d"/>
<path d="M565,559.3 L642.6,587.1 L625.7,600 L757.9,777.9 L720.7,804.3 L587.9,629.3 L570.7,640 Z" fill="none" stroke="#231815" stroke-width="2.1" stroke-dasharray="2.7 2.5" stroke-linejoin="miter"/>
<text transform="translate(600.00,621.50) rotate(54.5)" font-size="38" fill="#231815" textLength="210.0">干燥、脱水</text>
<path d="M1206.9,517.4 L1247.1,538.4 L1145.7,733.3 L1164.8,744.2 L1093.3,783.7 L1085.2,702.4 L1104.9,712.9 Z" fill="none" stroke="#e5211d" stroke-width="2" stroke-linejoin="miter"/>
<text transform="translate(1145.60,709.80) rotate(-62)" font-size="40" fill="#e5211d" textLength="163.9">等温吸水</text>
<text x="1231.00" y="644.70" font-size="58" fill="#0b8b42" text-anchor="start" font-weight="bold">τ</text>
<text transform="translate(1264.00,646.00)" font-size="38" fill="#231815" textLength="38.0">和</text>
<text x="1306.50" y="631.40" font-size="38.5" fill="#e5211d" text-anchor="start">T</text>
<text x="1331.50" y="646.00" font-size="38.5" fill="#e5211d" text-anchor="start">g</text>
<line x1="1365.7" y1="608.6" x2="1365.7" y2="629.0" stroke="#e5211d" stroke-width="2.8" stroke-dasharray="3.6 2.6"/>
<path d="M1365.7,635.8 L1358.9,625.8 L1365.7,630.3 L1372.5,625.8 Z" fill="#e5211d"/>
<line x1="1074.0" y1="657.7" x2="1399.0" y2="657.7" stroke="#e5211d" stroke-width="2.2" stroke-dasharray="8.6 4.3"/>
<text x="1234.50" y="700.00" font-size="63" fill="#e5211d" text-anchor="start">a</text>
<text x="1264.50" y="715.50" font-size="40" fill="#e5211d" text-anchor="start">w</text>
<line x1="1305.7" y1="700" x2="1305.7" y2="679.5999999999999" stroke="#e5211d" stroke-width="2.8" stroke-dasharray="3.6 2.6"/>
<path d="M1305.7,672.8 L1298.9,682.8 L1305.7,678.3 L1312.5,682.8 Z" fill="#e5211d"/>
<line x1="1324.3" y1="700" x2="1324.3" y2="679.5999999999999" stroke="#e5211d" stroke-width="2.8" stroke-dasharray="3.6 2.6"/>
<path d="M1324.3,672.8 L1317.5,682.8 L1324.3,678.3 L1331.1,682.8 Z" fill="#e5211d"/>
<text transform="translate(1417.50,684.50)" font-size="58" fill="#e5211d" textLength="228.4">结构松弛</text>
<circle cx="122.9" cy="795.0" r="3.4" fill="#b81c22"/>
<text transform="translate(134.50,818.50)" font-size="66.5" fill="#b81c22" textLength="266.0">结构坍缩</text>
<circle cx="122.9" cy="877.5" r="3.4" fill="#b81c22"/>
<text transform="translate(134.50,901.00)" font-size="66.5" fill="#b81c22" textLength="266.0">非酶褐变</text>
<circle cx="122.9" cy="962.5" r="3.4" fill="#b81c22"/>
<text transform="translate(134.50,986.00)" font-size="66.5" fill="#b81c22" textLength="266.0">质构变化</text>
<circle cx="122.9" cy="1042.5" r="3.4" fill="#b81c22"/>
<text transform="translate(134.50,1066.00)" font-size="66.5" fill="#b81c22" textLength="332.5">微生物腐败</text>
<path d="M408.1,923.8 L479,877.1 V901 H689 V946.2 H479 V970 Z" fill="none" stroke="#a9242e" stroke-width="2.2" stroke-dasharray="3.4 2.4" stroke-linejoin="miter"/>
<text transform="translate(442.70,940.60)" font-size="41" fill="#e5211d" textLength="246.0">货架寿命缩短</text>
<text transform="translate(1221.50,1015.50)" font-size="66" fill="#231815" textLength="264.0">体系分子</text>
<text transform="translate(1224.70,1096.50)" font-size="66" fill="#231815" textLength="259.5">自由流动</text>
<line x1="1205.0" y1="1029.0" x2="1073.5" y2="1033.0" stroke="#231815" stroke-width="1.7" />
<path d="M1055.5,1033.5 L1080.2,1022.8 L1073.5,1033.0 L1080.8,1042.7 Z" fill="#231815"/>
<text x="123.50" y="1316.30" font-size="64" fill="#231815" text-anchor="start">B</text>
<line x1="1039.6" y1="1273.0" x2="1039.6" y2="2273.0" stroke="#5d3b8e" stroke-width="3" stroke-dasharray="6 3.6"/>
<line x1="1039.6" y1="1769.8" x2="1693.0" y2="1769.8" stroke="#5d3b8e" stroke-width="3" stroke-dasharray="6 3.6"/>
<line x1="359.5" y1="1297.2" x2="359.5" y2="2288.5" stroke="#231815" stroke-width="5" />
<line x1="344.0" y1="2273.0" x2="1645.6" y2="2273.0" stroke="#231815" stroke-width="4.4" />
<text x="319.50" y="2290.00" font-size="66" fill="#231815" text-anchor="end">0.0</text>
<line x1="344.0" y1="2078.3" x2="375.0" y2="2078.3" stroke="#231815" stroke-width="4.4" />
<text x="319.50" y="2095.28" font-size="66" fill="#231815" text-anchor="end">5.0</text>
<line x1="344.0" y1="1883.6" x2="375.0" y2="1883.6" stroke="#231815" stroke-width="4.4" />
<text x="319.50" y="1900.56" font-size="66" fill="#231815" text-anchor="end">10.0</text>
<line x1="344.0" y1="1688.8" x2="375.0" y2="1688.8" stroke="#231815" stroke-width="4.4" />
<text x="319.50" y="1705.84" font-size="66" fill="#231815" text-anchor="end">15.0</text>
<line x1="344.0" y1="1494.1" x2="375.0" y2="1494.1" stroke="#231815" stroke-width="4.4" />
<text x="319.50" y="1511.12" font-size="66" fill="#231815" text-anchor="end">20.0</text>
<line x1="344.0" y1="1299.4" x2="375.0" y2="1299.4" stroke="#231815" stroke-width="4.4" />
<text x="319.50" y="1316.40" font-size="66" fill="#231815" text-anchor="end">25.0</text>
<text x="356.00" y="2350.50" font-size="66" fill="#231815" text-anchor="middle">0.0</text>
<line x1="616.3" y1="2257.5" x2="616.3" y2="2288.5" stroke="#231815" stroke-width="4.6" />
<text x="612.76" y="2350.50" font-size="66" fill="#231815" text-anchor="middle">0.2</text>
<line x1="873.0" y1="2257.5" x2="873.0" y2="2288.5" stroke="#231815" stroke-width="4.6" />
<text x="869.52" y="2350.50" font-size="66" fill="#231815" text-anchor="middle">0.4</text>
<line x1="1129.8" y1="2257.5" x2="1129.8" y2="2288.5" stroke="#231815" stroke-width="4.6" />
<text x="1126.28" y="2350.50" font-size="66" fill="#231815" text-anchor="middle">0.6</text>
<line x1="1386.5" y1="2257.5" x2="1386.5" y2="2288.5" stroke="#231815" stroke-width="4.6" />
<text x="1383.04" y="2350.50" font-size="66" fill="#231815" text-anchor="middle">0.8</text>
<line x1="1643.3" y1="2257.5" x2="1643.3" y2="2288.5" stroke="#231815" stroke-width="4.6" />
<text x="1639.80" y="2350.50" font-size="66" fill="#231815" text-anchor="middle">1.0</text>
<text transform="translate(154.50,2239.00) rotate(-90)" font-size="62" fill="#231815" textLength="330.4">游离水含量</text>
<text transform="translate(153.5,1887.5) rotate(-90) scale(0.965,1)" font-size="70" fill="#231815">(g H<tspan font-size="42" dy="12">2</tspan><tspan dy="-12">O/100 g solids)</tspan></text>
<text transform="translate(790.50,2449.00)" font-size="65" fill="#231815" textLength="265.4">水分活度</text>
<text x="1076.00" y="2446.00" font-size="67" fill="#231815" text-anchor="start">(a</text>
<text x="1135.00" y="2461.00" font-size="38" fill="#231815" text-anchor="start">w</text>
<text x="1160.00" y="2446.00" font-size="67" fill="#231815" text-anchor="start">)</text>
<text transform="translate(476.50,1357.00)" font-size="65.5" fill="#8b2b90" textLength="327.5">吸水等温线</text>
<rect x="396" y="1469.4" width="53.4" height="54.9" rx="1.5" fill="#fff" stroke="#1d50a2" stroke-width="3.9"/>
<circle cx="462.2" cy="1496.9" r="3.9" fill="#1d50a2"/><circle cx="462.2" cy="1507.6" r="3.9" fill="#1d50a2"/>
<text x="500.50" y="1511.50" font-size="52" fill="#1d50a2" text-anchor="start">25</text>
<text transform="translate(567.50,1518.00)" font-size="53" fill="#1d50a2" textLength="371.0">℃乳糖吸水数据</text>
<circle cx="422.8" cy="1576.6" r="21.4" fill="#e5211d"/>
<circle cx="465.1" cy="1581.4" r="3.9" fill="#e5211d"/><circle cx="465.1" cy="1592.1" r="3.9" fill="#e5211d"/>
<text transform="translate(500.50,1599.50)" font-size="53.3" fill="#e5211d" textLength="426.4">吸水叠加计算值域</text>
<rect x="396.2" y="1633.5" width="53.2" height="55.3" rx="2" fill="url(#hatch)" stroke="#231815" stroke-width="4.5"/>
<circle cx="466" cy="1659.5" r="3.9" fill="#231815"/><circle cx="466" cy="1671.5" r="3.9" fill="#231815"/>
<text transform="translate(499.50,1683.50)" font-size="53.5" fill="#231815" textLength="321.0">结晶后吸水值</text>
<rect x="558.2" y="1707.6" width="262.5" height="207.4" fill="#f3e939"/>
<text x="558.60" y="1771.00" font-size="58" fill="#e5211d" text-anchor="start" letter-spacing="3.6">GAB</text>
<text transform="translate(686.50,1771.50)" font-size="58" fill="#e5211d" textLength="116.0">模型</text>
<path d="M668.6,1814.3 H700.7 M684.6,1798 V1830.5" stroke="#e5211d" stroke-width="2.3" fill="none"/>
<text transform="translate(570.50,1896.00)" font-size="60" fill="#e5211d" textLength="240.0">吸水叠加</text>
<rect x="615.2" y="2188.1" width="262.3" height="78.6" fill="#f3e939"/>
<text x="629.00" y="2250.50" font-size="62" fill="#1d50a2" text-anchor="start">BET</text>
<text transform="translate(744.50,2252.00)" font-size="60" fill="#1d50a2" textLength="120.0">模型</text>
<path d="M359.5,2273.0C376.2,2258.9 393.0,2244.3 409.7,2230.7C426.4,2217.1 443.2,2204.2 459.9,2191.6C476.6,2179.0 493.4,2167.0 510.1,2155.3C526.8,2143.6 543.6,2132.5 560.3,2121.6C577.0,2110.7 593.8,2100.1 610.5,2089.8C627.2,2079.5 643.9,2069.6 660.6,2059.8C677.3,2050.0 694.1,2040.4 710.8,2030.9C727.5,2021.4 744.3,2012.1 761.0,2002.8C777.7,1993.5 794.5,1984.2 811.2,1974.9C827.9,1965.6 844.7,1956.2 861.4,1946.7C878.1,1937.2 894.9,1927.6 911.6,1917.7C928.3,1907.8 945.1,1897.8 961.8,1887.4C978.5,1877.0 995.3,1866.3 1012.0,1855.1C1028.7,1843.9 1045.5,1832.4 1062.2,1820.3C1078.9,1808.2 1095.7,1795.6 1112.4,1782.3C1129.1,1769.0 1145.9,1755.2 1162.6,1740.5C1179.3,1725.8 1196.1,1710.5 1212.8,1694.2C1229.5,1677.9 1246.2,1660.8 1262.9,1642.7C1279.6,1624.6 1296.4,1605.6 1313.1,1585.4C1329.8,1565.2 1346.6,1544.0 1363.3,1521.4C1380.0,1498.9 1396.8,1475.2 1413.5,1450.1C1430.2,1425.0 1447.0,1398.6 1463.7,1370.6C1480.4,1342.6 1497.2,1311.6 1513.9,1282.1" fill="none" stroke="#e5211d" stroke-width="4.7" stroke-dasharray="25.6 22.12" stroke-linecap="round"/>
<circle cx="1198.8" cy="1709.1" r="23.5" fill="#e5211d"/>
<circle cx="1328.1" cy="1571.9" r="23.6" fill="#e5211d"/>
<circle cx="1467.6" cy="1397.5" r="21.5" fill="#e5211d"/>
<path d="M359.5,2273.0C375.4,2263.2 391.3,2253.2 407.2,2243.7C423.1,2234.2 438.9,2225.0 454.8,2216.0C470.7,2207.0 486.6,2198.2 502.5,2189.5C518.4,2180.8 534.3,2172.3 550.2,2163.8C566.1,2155.3 582.0,2146.9 597.9,2138.5C613.8,2130.1 629.6,2121.7 645.5,2113.1C661.4,2104.5 677.3,2096.0 693.2,2087.2C709.1,2078.4 725.0,2069.6 740.9,2060.5C756.8,2051.4 772.7,2042.1 788.6,2032.5C804.5,2022.9 820.3,2013.1 836.2,2002.9C852.1,1992.7 868.0,1982.2 883.9,1971.2C899.8,1960.2 915.7,1948.9 931.6,1937.1C947.5,1925.3 963.4,1913.0 979.3,1900.2C995.2,1887.4 1011.0,1874.1 1026.9,1860.2C1042.8,1846.3 1058.7,1831.8 1074.6,1816.6C1090.5,1801.4 1106.4,1785.6 1122.3,1769.1C1138.2,1752.6 1154.1,1735.4 1170.0,1717.4C1185.9,1699.4 1201.7,1680.7 1217.6,1661.1C1233.5,1641.5 1249.4,1621.1 1265.3,1599.8C1281.2,1578.5 1297.1,1556.4 1313.0,1533.3C1328.9,1510.2 1344.8,1486.2 1360.7,1461.2C1376.6,1436.2 1392.4,1409.9 1408.3,1383.1C1424.2,1356.3 1440.1,1328.0 1456.0,1300.5" fill="none" stroke="#1d50a2" stroke-width="4.8" stroke-linecap="round"/>
<line x1="690.5" y1="1913.6" x2="690.5" y2="2024.0" stroke="#e5211d" stroke-width="4.3" />
<path d="M690.5,2039.4 L679.7,2017.4 L690.5,2024.0 L701.3,2017.4 Z" fill="#e5211d"/>
<line x1="746.6" y1="2188.1" x2="746.6" y2="2078.6" stroke="#1d50a2" stroke-width="4.3" />
<path d="M746.6,2063.5 L757.4,2085.0 L746.6,2078.6 L735.8,2085.0 Z" fill="#1d50a2"/>
<rect x="476.2" y="2168.8" width="53.4" height="53.4" rx="1.5" fill="none" stroke="#1d50a2" stroke-width="4.1"/>
<rect x="620.6" y="2066.1" width="53.4" height="53.4" rx="1.5" fill="none" stroke="#1d50a2" stroke-width="4.1"/>
<rect x="753.7" y="1984.6" width="53.4" height="53.4" rx="1.5" fill="none" stroke="#1d50a2" stroke-width="4.1"/>
<rect x="889.5" y="1915.3" width="53.4" height="53.4" rx="1.5" fill="none" stroke="#1d50a2" stroke-width="4.1"/>
<rect x="1011.5" y="1817.6" width="53.4" height="53.4" rx="1.5" fill="none" stroke="#1d50a2" stroke-width="4.1"/>
<rect x="1171.2" y="2136.3" width="54.8" height="54.5" rx="2" fill="url(#hatch2)" stroke="#231815" stroke-width="4.4"/>
<rect x="1300.7" y="2128.4" width="54.5" height="54.7" rx="2" fill="url(#hatch2)" stroke="#231815" stroke-width="4.4"/>
<rect x="1440.4" y="2114.7" width="53.1" height="54.7" rx="2" fill="url(#hatch2)" stroke="#231815" stroke-width="4.4"/>
<text x="966.00" y="1315.50" font-size="58" fill="#5d3b8e" text-anchor="start">a</text>
<text x="992.00" y="1327.00" font-size="36" fill="#5d3b8e" text-anchor="start">w</text>
<text transform="translate(965.50,1382.50)" font-size="58.5" fill="#5d3b8e" textLength="58.5">拟</text>
<text transform="translate(965.50,1455.80)" font-size="58.5" fill="#5d3b8e" textLength="58.5">合</text>
<text transform="translate(965.50,1529.10)" font-size="58.5" fill="#5d3b8e" textLength="58.5">区</text>
<text transform="translate(965.50,1602.40)" font-size="58.5" fill="#5d3b8e" textLength="58.5">域</text>
<text transform="translate(1261.50,1538.00) rotate(-52.6)" font-size="57" fill="#1d50a2" textLength="240.6">拟合失真</text>
<text transform="translate(1402.70,1608.10) rotate(-52.6)" font-size="57" fill="#e5211d" textLength="238.8">拟合拓展</text>
<text x="1226" y="1755.5" font-size="62" fill="#e5211d">m<tspan font-size="38" dy="13">0</tspan><tspan dy="-13"> (GAB)</tspan><tspan fill="#231815"> &lt; </tspan><tspan fill="#1d50a2">m</tspan><tspan fill="#1d50a2" font-size="38" dy="13">0</tspan><tspan fill="#1d50a2" dy="-13"> (BET)</tspan></text>
<text x="1209.5" y="1974" font-size="64" fill="#231815">c<tspan font-size="36" dy="11.5">GAB</tspan></text>
<text transform="translate(1314.50,1977.50)" font-size="57" fill="#231815" textLength="114.5">下降</text>
<text transform="translate(1126.50,2049.50)" font-size="58" fill="#231815" textLength="359.0">游离水解吸附</text>
</svg>
</body></html>
